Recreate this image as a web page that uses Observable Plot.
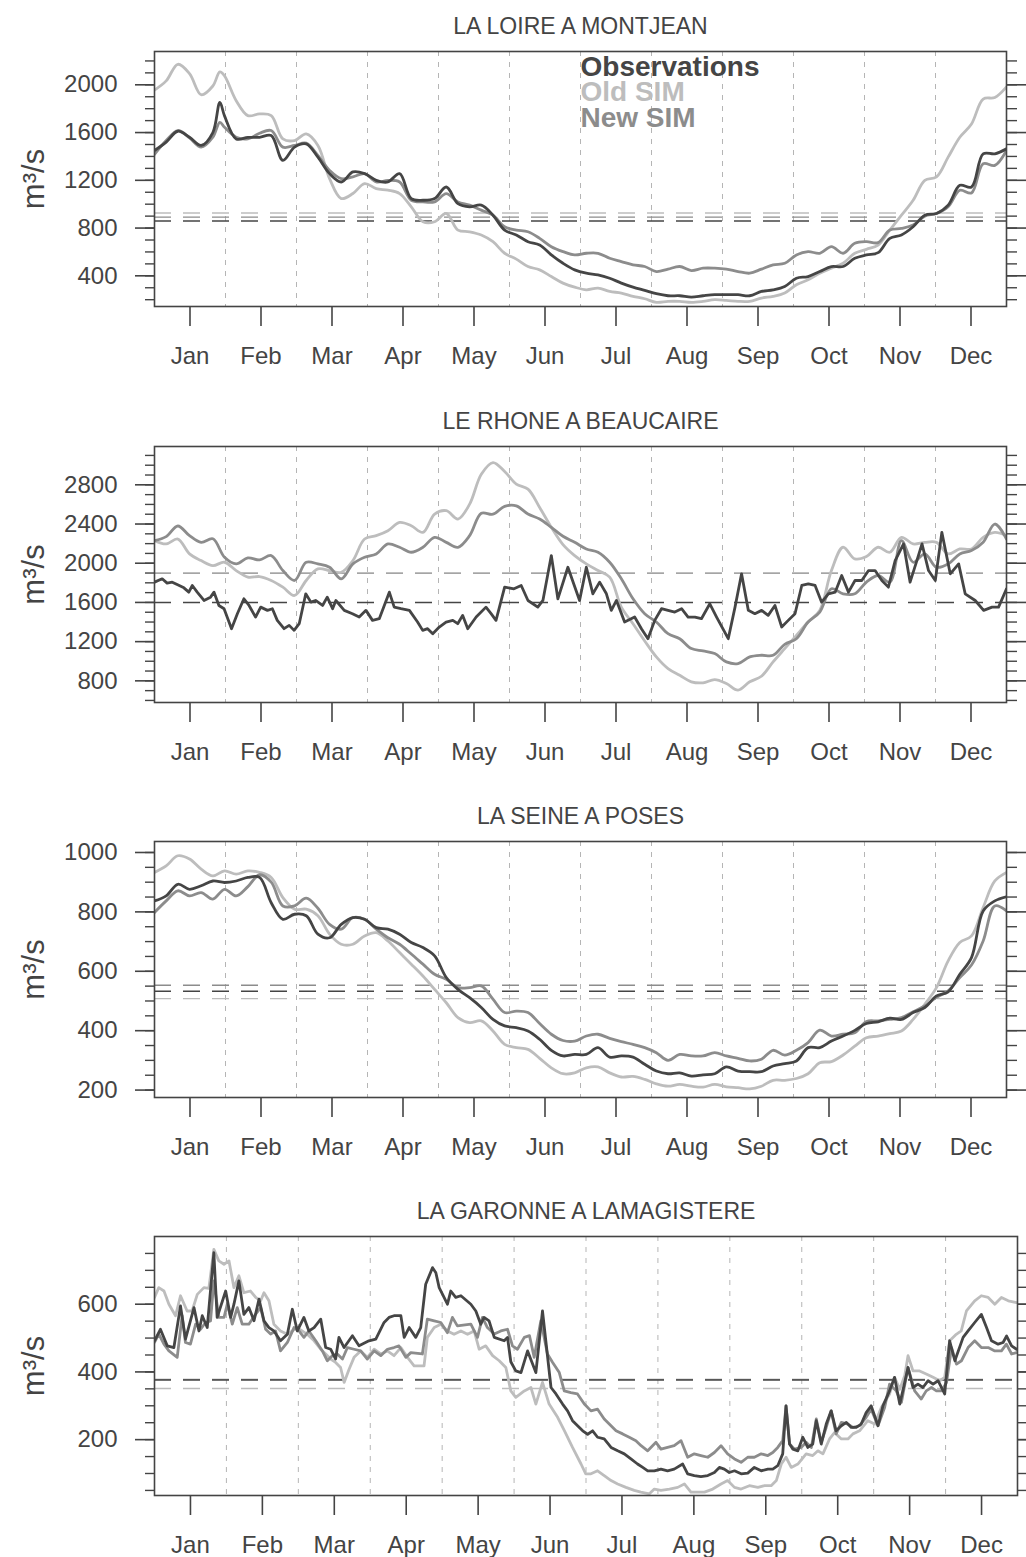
<!DOCTYPE html>
<html><head><meta charset="utf-8">
<script src="https://cdn.jsdelivr.net/npm/d3@7"></script>
<script src="https://cdn.jsdelivr.net/npm/@observablehq/plot@0.6"></script>
<style>
body{margin:0;background:#fff}
#chart{width:1026px}
#chart svg{display:block}
</style>
</head><body><div id="chart"></div>
<script>
// ---------- labels ----------
const months = ["Jan","Feb","Mar","Apr","May","Jun","Jul","Aug","Sep","Oct","Nov","Dec"];
const titles = ["LA LOIRE A MONTJEAN","LE RHONE A BEAUCAIRE","LA SEINE A POSES","LA GARONNE A LAMAGISTERE"];
const seriesNames = ["Observations","Old SIM","New SIM"];
const seriesColors = ["#454545","#bdbdbd","#8c8c8c"];
const yLabel = "m³/s";

// ---------- LOIRE ----------
const loireDay = [0,5,10,15,20,25,28,30,35,40,45,50,55,60,65,70,75,80,85,90,95,100,105,110,115,120,125,130,135,140,145,150,155,160,165,170,175,180,185,190,195,200,205,210,215,220,225,230,235,240,245,250,255,260,265,270,275,280,285,290,295,300,305,310,315,320,325,330,335,340,345,350,355,360,365];
const loireObs = [1450,1520,1611,1561,1492,1600,1853,1740,1547,1560,1560,1575,1367,1478,1505,1394,1256,1186,1270,1256,1200,1186,1256,1047,1033,1047,1144,1005,978,992,908,783,742,686,658,575,505,450,422,408,380,339,305,278,250,233,233,222,233,242,242,242,233,269,283,311,380,394,436,478,478,547,575,594,714,742,811,908,922,992,1158,1144,1422,1422,1464];
const loireOld = [1956,2033,2172,2094,1917,1990,2108,2075,1867,1742,1756,1742,1547,1533,1589,1492,1214,1047,1089,1172,1131,1117,1089,978,853,853,922,783,769,742,686,589,540,478,450,394,339,305,283,297,269,256,228,208,178,186,186,178,186,200,194,186,186,214,228,256,325,367,422,464,505,589,622,658,783,908,1033,1200,1228,1394,1561,1672,1881,1894,1983];
const loireNew = [1417,1533,1617,1556,1478,1561,1686,1644,1561,1547,1594,1617,1478,1492,1511,1408,1283,1214,1228,1256,1186,1200,1186,1033,1019,1019,1089,1019,992,950,908,811,783,769,714,644,603,575,589,589,547,519,492,478,436,456,478,444,464,464,456,436,422,456,492,505,575,603,589,644,589,672,686,678,783,797,825,900,922,978,1117,1094,1339,1325,1450];
const loireMeans = [859, 926, 892]; // obs, old, new

// ---------- RHONE ----------
const gridDay = d3.range(0, 366, 5);
const rhoneObsDay = [0,3.3,5.4,7.6,9.7,12.6,14.7,16.2,18.3,21.2,24,25.5,27.6,29.8,33,35.5,38.3,40.5,43.3,45.5,48.4,50.5,52.6,55.5,57.7,59.8,62,64.8,67,69,72,74,76.3,77.7,81.3,84.8,87.7,90.6,93.4,96.3,100.6,102.7,105.6,109.2,112.7,114.9,117,119.2,122,124.9,127.8,129.9,132,134.2,137.8,142,144.2,146.3,150,154,157.1,160,164.2,166.4,170,172.8,177.1,182.1,185,187.8,190.7,193.6,195.7,197.9,201.4,205.7,208.6,211.4,214.3,217.2,220,222.9,225.8,228.6,231.5,234.3,237.9,240.8,245.8,248.7,251.5,254.4,257.2,260.1,262.9,265.8,268.7,271.5,274.4,277.3,280.1,283,285.8,288.7,291.6,294.4,297.3,300.1,303,305.9,308.7,311.6,314.4,317.3,320.9,323.7,326.6,328.8,331.6,334.5,337.3,340.9,344.5,347.3,351.6,355.2,358.8,361.6,365];
const rhoneObs = [1807,1841,1797,1807,1783,1749,1705,1773,1705,1620,1654,1705,1569,1536,1332,1485,1637,1569,1451,1552,1519,1536,1417,1332,1366,1315,1383,1688,1603,1620,1569,1654,1536,1620,1519,1485,1451,1519,1417,1434,1705,1552,1536,1519,1400,1315,1332,1281,1349,1400,1417,1383,1468,1332,1451,1552,1485,1417,1756,1739,1773,1620,1552,1620,2078,1637,1959,1620,1959,1688,1807,1688,1519,1620,1400,1451,1332,1230,1417,1536,1519,1502,1536,1451,1451,1434,1586,1451,1230,1552,1892,1519,1485,1519,1468,1569,1349,1417,1485,1773,1790,1773,1603,1688,1705,1875,1705,1824,1824,1925,1925,1824,1756,2027,2197,1807,2027,2197,1925,1824,2315,1892,1993,1688,1620,1519,1552,1552,1739];
const rhoneOld = [2230,2197,2247,2095,2027,1976,2010,1925,1858,1864,1824,1756,1671,1824,1942,1925,1908,2027,2247,2281,2332,2417,2383,2315,2502,2536,2451,2603,2908,3027,2936,2807,2756,2569,2366,2190,2078,1993,1925,1858,1553,1383,1207,1044,925,857,790,780,813,773,705,790,847,993,1129,1264,1400,1519,1925,2163,2044,2068,2163,2112,2264,2197,2213,2213,2095,2146,2146,2264,2315,2281];
const rhoneNew = [2230,2271,2380,2281,2213,2250,2061,1993,2054,2034,2078,1925,1824,2010,1993,1959,1841,1993,2061,2095,2197,2163,2112,2163,2264,2213,2163,2281,2510,2500,2580,2585,2502,2451,2366,2275,2214,2146,2112,2010,1841,1637,1485,1400,1281,1230,1129,1105,1078,993,976,1044,1061,1061,1173,1230,1400,1502,1739,1688,1688,1807,1875,1807,2230,2010,2095,1959,1993,2095,2129,2214,2400,2247];
const rhoneMeans = [1600, 1902, 1898];

// ---------- SEINE ----------
const seineObs = [837,854,893,876,888,904,899,904,916,916,831,775,792,787,725,713,758,781,775,747,742,725,697,680,652,579,539,511,478,438,416,410,399,371,334,315,320,320,343,311,315,311,287,264,255,258,247,251,255,278,264,262,262,281,289,298,343,343,365,382,401,424,430,442,438,461,478,517,531,590,646,803,837,851];
const seineOld = [933,955,989,978,944,921,938,927,938,933,916,848,809,809,787,725,691,691,719,730,702,663,624,584,539,494,444,427,433,399,354,343,337,307,275,255,258,275,278,258,244,246,236,221,213,219,213,210,219,211,208,204,213,233,233,239,255,292,296,318,348,376,382,390,399,438,489,545,635,697,719,815,904,933];
const seineNew = [798,837,871,854,865,843,876,854,885,925,900,820,820,846,812,758,742,781,775,742,713,691,658,624,590,573,545,545,551,506,461,466,461,424,388,367,365,382,388,374,363,354,343,326,300,320,315,315,326,315,307,298,304,334,318,334,360,402,382,388,393,431,433,438,444,464,483,512,534,579,621,702,820,803];
const seineMeans = [533, 508, 553];

// ---------- GARONNE ----------
const garObsDay = [0,2.5,5.4,8.2,11,13.1,16.7,18.8,20.2,22.3,25.1,26.5,30.1,32.2,33.6,35.7,37.8,39.9,42.1,44.2,46.3,48.4,50.5,53.3,56.2,58.3,60.4,63.2,65.3,67.5,70.3,72.4,74.5,76.6,78,80.2,83.7,86.5,90.7,93.6,97.1,99.2,101.3,104.2,105.6,107.7,110.5,112.6,114.7,117.6,119,120.4,123.9,125.3,127.4,129.6,133.8,135.9,138,139.4,141.5,143.7,147.9,149.3,150.7,152.8,155,157.8,161.3,164.1,167.7,169.8,172.6,174.7,176.8,181.1,183.2,185.3,187.4,190.2,193.1,195.9,198.7,201.5,204.3,206.5,208.6,211.4,214.2,217,219.8,223.4,225.5,228.3,231.1,234,236.8,238.9,241,243.1,245.3,248.1,250.9,253.7,256.6,259.4,261.5,263.6,265.7,267.1,268.6,270,272.1,274.2,276.3,278.4,279.9,282,284.1,286.2,288.3,290.5,292.6,294.7,296.8,298.9,301,303.1,306,308.1,310.9,313,315.2,317.3,318.7,320.8,322.9,325,327.2,329.3,331.4,334.2,336.3,338.5,342,344.1,346.9,349.7,351.9,354,356.8,358.9,360.4,362.5,364.6];
const garObs = [492,526,477,472,595,497,590,521,566,531,752,561,639,561,600,669,570,590,551,615,551,531,521,492,511,585,521,561,521,531,556,472,467,438,502,472,507,477,492,497,546,561,566,566,502,531,502,531,659,708,693,649,600,639,620,625,600,580,541,561,551,502,492,502,430,403,398,462,398,580,354,335,305,285,256,226,216,226,207,202,177,167,158,143,128,118,108,108,113,108,113,128,99,94,91,94,103,118,113,103,108,99,101,118,108,113,113,123,158,300,187,172,167,207,177,187,256,187,246,285,226,241,251,236,236,246,280,300,241,300,344,384,305,369,413,354,364,354,374,364,374,335,492,433,502,521,546,570,531,492,482,487,506,477,467];
const garOldDay = [0,1.8,4,6.1,8.9,11,13.8,15.9,18.1,20.9,23,25.1,27.2,29.4,31.5,33.6,35.7,37.8,40.6,42.8,44.9,46.3,48.4,50.5,53.3,56.2,58.3,60.4,64.6,67.5,70.3,72.4,74.5,76.6,78.7,80.2,82.3,84.4,87.2,90,92.9,95.7,98.5,101.3,104.2,107,109.8,114,115.4,118.3,121.1,123.9,126.7,129.6,132.4,135.2,137.3,140.1,143,145.8,148.6,150.7,152.8,156.4,159.2,161.3,164.1,166.9,170.5,173.4,176.8,180.4,182.4,184.6,187.4,190.2,193.1,195.9,199.4,202.9,205.7,209.3,211.4,214.2,217.8,221.3,224.1,226.9,229.7,232.6,236.1,239.6,242.4,245.3,248.1,251.6,255.2,258,260.8,263,265.1,267.1,269.3,272.1,275.6,278.4,280.6,282.7,285.5,287.6,290.5,293.3,295.4,298.2,301.7,304.6,307.4,310.9,313,315.2,317.3,318.7,320.8,323.6,326.4,329.3,332.1,334.2,336.3,339.1,341.2,343.4,346.9,349.7,352.6,355.4,358.2,361.1,364.6];
const garOld = [620,649,639,600,566,625,580,580,629,649,647,762,728,718,728,649,684,634,639,620,610,634,610,541,521,511,521,531,511,492,467,453,438,428,413,369,408,443,462,443,467,453,462,448,472,443,418,418,502,531,541,521,511,521,511,521,467,477,448,433,413,344,325,344,354,305,369,305,266,226,177,128,99,99,108,94,79,69,59,50,45,40,54,50,54,59,69,45,45,45,54,69,79,59,54,64,59,64,64,79,128,148,118,128,158,153,167,158,202,221,202,202,217,226,256,246,295,335,384,349,389,448,403,403,394,384,374,384,492,511,521,580,610,625,620,600,620,610,605];
const garNewDay = [0,1.8,4,6.1,9.6,11.7,13.1,15.2,17.4,19.5,21.6,23.7,25.1,27.2,29.4,30.8,32.9,35,37.1,39.9,42.8,44.9,47,49.1,51.2,53.3,56.2,59,61.1,63.2,65.3,68.2,71,73.1,75.2,77.3,79.5,81.6,84.4,87.2,90,92.9,95.7,98.5,101.3,103.4,106.3,108.4,113.3,115.4,118.3,121.1,123.9,126,128.1,133.8,136.6,138.7,140.8,143.7,146.5,149.3,151.4,153.5,156.4,158.6,160.6,163.4,166.2,168.4,171.2,173.3,176.1,178.9,181.8,184.6,187.4,190.2,195.2,198,200.8,203.6,205.8,208.6,212.1,214.2,217,219.8,222.7,225.5,228.3,231.1,234,236.8,239.6,242.4,245.3,248.1,250.9,253.7,256.6,259.4,261.5,263.6,265.7,267.1,268.6,270.7,273.5,275.6,277.8,279.9,282,284.1,286.2,288.3,290.5,293.3,295.4,298.2,301,303.1,306,308.8,310.9,313.7,315.9,318.7,321.5,324.3,326.4,328.6,330.7,332.8,335,337.1,339.2,341.3,344.1,346.9,349.7,352.6,355.4,358.2,360.3,362.5,364.6];
const garNew = [487,512,482,462,443,566,487,482,541,526,546,551,669,561,561,600,541,590,541,541,571,590,526,512,521,462,487,531,521,502,521,492,462,433,448,453,438,472,467,462,438,462,448,467,472,477,443,457,453,556,551,546,516,561,536,541,502,561,531,512,521,526,477,467,502,507,443,551,453,428,398,344,339,335,305,285,290,261,226,217,207,197,182,167,192,172,177,182,197,148,158,153,148,162,182,158,143,133,148,148,158,153,162,177,197,300,187,172,177,192,177,261,192,236,285,217,251,246,236,241,266,290,241,295,364,344,310,413,344,320,344,354,344,344,369,472,423,433,472,492,472,472,462,462,482,453,457];
const garMeans = [376, 351, 378];

// ---------- y axis ticks ----------
const loireMajor = [400,800,1200,1600,2000], loireMinor = d3.range(200, 2201, 100);
const rhoneMajor = [800,1200,1600,2000,2400,2800], rhoneMinor = d3.range(600, 3101, 100);
const seineMajor = [200,400,600,800,1000], seineMinor = d3.range(200, 1001, 50);
const garMajor = [200,400,600], garMinor = d3.range(50, 751, 50);

const monthLen = 365 / 12;
const monthMid = months.map((m, i) => (i + 0.5) * monthLen);
const monthEdge = months.slice(1).map((m, i) => (i + 1) * monthLen);

// curve per series: sampled (smooth) series vs. turning-point (noisy) series
const panels = [
  {title: titles[0], series: [[loireDay, loireObs, "catmull-rom"],[loireDay, loireOld, "catmull-rom"],[loireDay, loireNew, "catmull-rom"]], means: loireMeans,
   yDomain: [143, 2279], majors: loireMajor, minors: loireMinor, height: 395, mt: 51, mb: 89, mr: 20, legend: true},
  {title: titles[1], series: [[rhoneObsDay, rhoneObs, "linear"],[gridDay, rhoneOld, "catmull-rom"],[gridDay, rhoneNew, "catmull-rom"]], means: rhoneMeans,
   yDomain: [579, 3191], majors: rhoneMajor, minors: rhoneMinor, height: 395, mt: 51, mb: 88, mr: 20},
  {title: titles[2], series: [[gridDay, seineObs, "catmull-rom"],[gridDay, seineOld, "catmull-rom"],[gridDay, seineNew, "catmull-rom"]], means: seineMeans,
   yDomain: [175, 1037], majors: seineMajor, minors: seineMinor, height: 395, mt: 51, mb: 88, mr: 20},
  {title: titles[3], series: [[garObsDay, garObs, "linear"],[garOldDay, garOld, "linear"],[garNewDay, garNew, "linear"]], means: garMeans,
   yDomain: [35, 800], majors: garMajor, minors: garMinor, height: 372, mt: 51, mb: 62, mr: 9}
];

const ink = "#444";
const root = document.getElementById("chart");

for (const p of panels) {
  const marks = [
    Plot.ruleX(monthEdge, {stroke: "#b5b5b5", strokeWidth: 1, strokeDasharray: "5,6"}),
    ...[2, 1, 0].map(k => Plot.ruleY([p.means[k]], {stroke: seriesColors[k], strokeWidth: 1.4, strokeDasharray: "17,12"})),
    ...[1, 2, 0].map(k => Plot.lineY(p.series[k][1], {x: p.series[k][0], curve: p.series[k][2], stroke: seriesColors[k], strokeWidth: 2.8, clip: true})),
    Plot.frame({stroke: ink, strokeWidth: 1.6}),
    Plot.axisY({ticks: p.minors, tickSize: 9, tickFormat: () => "", stroke: ink, strokeWidth: 1.4, label: null}),
    Plot.axisY({ticks: p.majors, tickSize: 19, tickPadding: 18, tickFormat: "d", stroke: ink, strokeWidth: 1.6, fill: ink, fontSize: 24, label: null}),
    Plot.axisY({anchor: "right", ticks: p.minors, tickSize: 10, tickFormat: () => "", stroke: ink, strokeWidth: 1.4, label: null}),
    Plot.axisY({anchor: "right", ticks: p.majors, tickSize: 21, tickFormat: () => "", stroke: ink, strokeWidth: 1.6, label: null}),
    Plot.axisX({ticks: monthMid, tickSize: 20, tickPadding: 20, tickFormat: d => months[Math.round(d / monthLen - 0.5)],
      stroke: ink, strokeWidth: 1.6, fill: ink, fontSize: 24, label: null}),
    Plot.text([p.title], {frameAnchor: "top", dy: -18, lineAnchor: "bottom", textAnchor: "middle", fontSize: 23, fill: ink}),
    Plot.text([yLabel], {frameAnchor: "left", dx: -120, rotate: -90, textAnchor: "middle", lineAnchor: "middle", fontSize: 31, fill: ink})
  ];
  if (p.legend) {
    const legendDy = [24, 49, 75];
    seriesNames.forEach((n, k) => marks.push(Plot.text([n], {
      frameAnchor: "top-left", dx: 426, dy: legendDy[k], lineAnchor: "bottom", textAnchor: "start",
      fontSize: 28, fontWeight: "bold", fill: seriesColors[k]
    })));
  }
  const svg = Plot.plot({
    width: 1026, height: p.height,
    marginLeft: 154, marginRight: p.mr, marginTop: p.mt, marginBottom: p.mb,
    x: {domain: [0, 365]},
    y: {domain: p.yDomain},
    style: {fontFamily: "'Liberation Sans', Arial, Helvetica, sans-serif", fontSize: "24px", color: ink, background: "white"},
    marks
  });
  root.appendChild(svg);
}
</script>
</body></html>
